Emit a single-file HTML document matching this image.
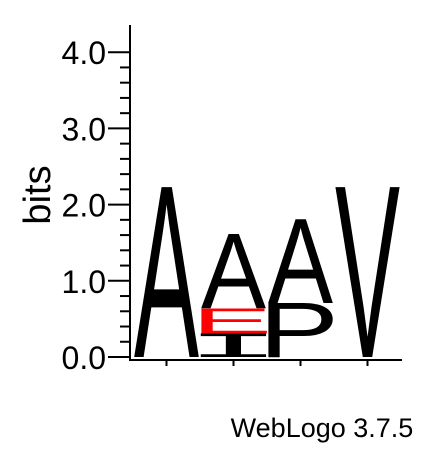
<!DOCTYPE html>
<html><head><meta charset="utf-8"><style>html,body{margin:0;padding:0;background:#fff}</style></head>
<body>
<svg width="424" height="444" viewBox="0 0 424 444" xmlns="http://www.w3.org/2000/svg" font-family="Liberation Sans, sans-serif">
<g id="axes"></g>
<g id="logo"></g>
<text transform="translate(50,195) rotate(-90)" text-anchor="middle" font-size="38">bits</text>
<text x="322" y="437" text-anchor="middle" font-size="27">WebLogo 3.7.5</text>
</svg>
<script>
const positions = [1, 2, 3, 4];
const col1Letters = ["A"];
const col1Bits = [2.23];
const col2Letters = ["I", "E", "A"];
const col2Bits = [0.31, 0.33, 0.97];
const col3Letters = ["P", "A"];
const col3Bits = [0.71, 1.10];
const col4Letters = ["V"];
const col4Bits = [2.23];
const yTicks = [0, 1, 2, 3, 4];
const yTickLabels = ["0.0", "1.0", "2.0", "3.0", "4.0"];

const NS = "http://www.w3.org/2000/svg";
const y0 = 357, pxPerBit = 76.2;
const yScale = b => y0 - b * pxPerBit;
const colW = 67, xStart = 133;
const xScale = p => xStart + (p - 1) * colW;
const colors = {E: "#ff0000"};
const inkL = {A: 0.0, E: 0.079, I: 0.10, P: 0.079, V: 0.0};
const inkR = {A: 0.667, E: 0.617, I: 0.50, P: 0.617, V: 0.667};
const capH = {A: 0.688, E: 0.688, I: 0.66, P: 0.688, V: 0.688};

const axes = document.getElementById('axes');
function line(x1, y1, x2, y2, w) {
  const l = document.createElementNS(NS, 'line');
  l.setAttribute('x1', x1); l.setAttribute('y1', y1); l.setAttribute('x2', x2); l.setAttribute('y2', y2);
  l.setAttribute('stroke', '#000'); l.setAttribute('stroke-width', w);
  axes.appendChild(l);
  return l;
}
const yAxis = line(130, 25, 130, 360, 2);


const xAxis = line(129, 360, 402, 360, 2);


for (let i = 0; i <= 20; i++) {
  const b = i * 0.2;
  const major = i % 5 === 0;
  const t = line(major ? 108 : 120, yScale(b), 130, yScale(b), 2);
  
  
}
yTicks.forEach((v, i) => {
  const t = document.createElementNS(NS, 'text');
  t.setAttribute('x', 106);
  t.setAttribute('y', yScale(v) + 12);
  t.setAttribute('text-anchor', 'end'); t.setAttribute('font-size', '32');
  t.textContent = yTickLabels[i];
  
  
  axes.appendChild(t);
});
positions.forEach(p => {
  const t = line(xScale(p) + colW / 2, 360, xScale(p) + colW / 2, 366, 2);
  
  
});

const logo = document.getElementById('logo');
const cols = [[col1Letters, col1Bits], [col2Letters, col2Bits], [col3Letters, col3Bits], [col4Letters, col4Bits]];
cols.forEach(([letters, bits], ci) => {
  const x = xScale(positions[ci]);
  let acc = 0;
  letters.forEach((L, li) => {
    const bot = yScale(acc), top = yScale(acc + bits[li]);
    acc += bits[li];
    const h = bot - top, w = colW - 2;
    const t = document.createElementNS(NS, 'text');
    const sx = w / ((inkR[L] - inkL[L]) * 100), sy = h / (capH[L] * 100);
    t.setAttribute('transform', `translate(${x + 1 - inkL[L] * 100 * sx},${bot}) scale(${sx},${sy})`);
    t.setAttribute('font-size', '100');
    if (L === 'I') t.setAttribute('font-family', 'Liberation Mono, monospace');
    t.setAttribute('fill', colors[L] || '#000');
    t.textContent = L;
    
    
    logo.appendChild(t);
  });
});
</script>
</body></html>
